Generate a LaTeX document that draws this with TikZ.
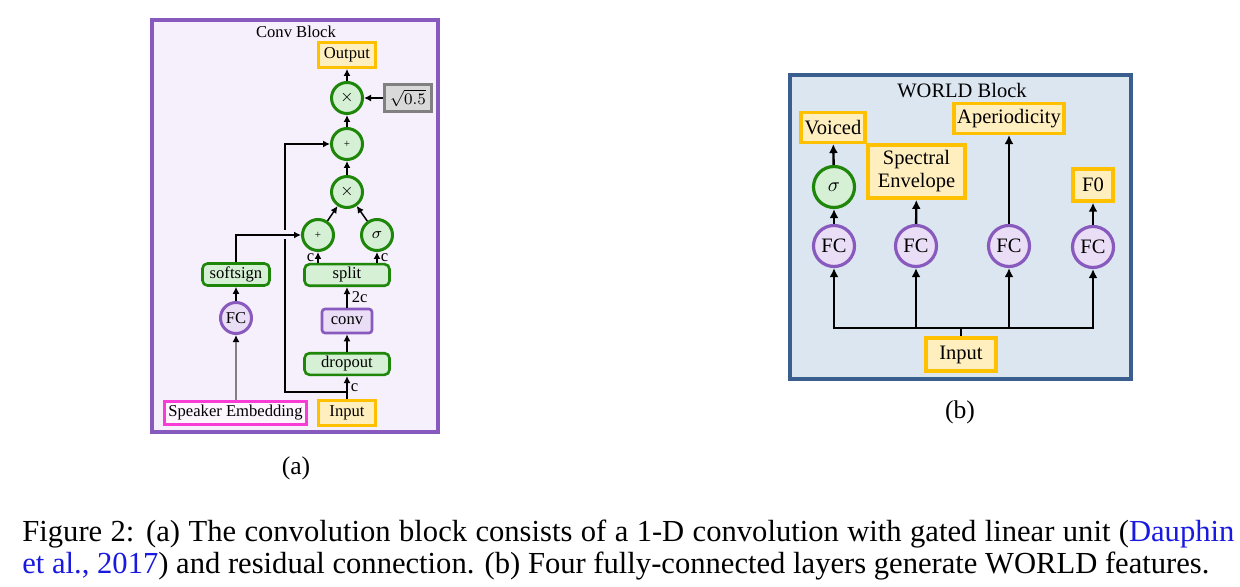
\documentclass[tikz,border=0pt]{standalone}
\usepackage{fontspec}
\setmainfont{Liberation Serif}
\usetikzlibrary{arrows.meta,positioning,calc}
\definecolor{convline}{RGB}{137,90,190}
\definecolor{convbg}{RGB}{246,239,252}
\definecolor{gline}{RGB}{30,135,10}
\definecolor{gfill}{RGB}{214,240,214}
\definecolor{oline}{RGB}{255,192,0}
\definecolor{ofill}{RGB}{255,239,191}
\definecolor{pfill}{RGB}{233,222,245}
\definecolor{mline}{RGB}{250,60,215}
\definecolor{mfill}{RGB}{253,246,255}
\definecolor{sqline}{RGB}{128,128,128}
\definecolor{sqfill}{RGB}{217,217,217}
\definecolor{wline}{RGB}{58,95,143}
\definecolor{wbg}{RGB}{220,230,241}
\definecolor{citeblue}{RGB}{25,25,225}
\newcommand{\panelafont}{\fontsize{8.3}{9.5}\selectfont}
\newcommand{\panelbfont}{\fontsize{10.25}{11.5}\selectfont}
\begin{document}
\begin{tikzpicture}[x=0.5pt, y=-0.5pt,
  gop/.style={circle, draw=gline, fill=gfill, line width=1.5pt, minimum size=15.5pt,
              inner sep=0pt, font=\panelafont},
  fcA/.style={circle, draw=convline, fill=pfill, line width=1.5pt, minimum size=15.5pt,
              inner sep=0pt, font=\panelafont},
  io/.style={draw=oline, fill=ofill, line width=1.4pt, minimum width=28.5pt,
             minimum height=12.5pt, inner sep=0pt, font=\panelafont},
  layer/.style={draw=gline, fill=gfill, line width=1.3pt, rounded corners=2.5pt,
                minimum width=42.5pt, minimum height=10.8pt, inner sep=0pt, font=\panelafont},
  arr/.style={line width=0.75pt, -{Latex[length=3.5pt,width=3.5pt]}},
  gopB/.style={circle, draw=gline, fill=gfill, line width=1.6pt, minimum size=20.5pt,
               inner sep=0pt, font=\panelbfont},
  fcB/.style={circle, draw=convline, fill=pfill, line width=1.6pt, minimum size=20.5pt,
              inner sep=0pt, font=\panelbfont},
  ioB/.style={draw=oline, fill=ofill, line width=1.75pt, inner sep=0pt, align=center,
              font=\panelbfont},
  arrB/.style={line width=1.2pt, -{Latex[length=4.5pt,width=4.5pt]}},
]
\useasboundingbox (0,0) rectangle (1240,587);

% (a) conv block
\draw[draw=convline, fill=convbg, line width=1.7pt] (152,20) rectangle (438,432);
\node[font=\panelafont, inner sep=0pt] (atitle) at (296,32) {Conv Block};

\node[io] (out) at (347,55) {Output};
\node[gop] (mul2) at (347,98) {$\times$};
\node[draw=sqline, fill=sqfill, line width=1.6pt, minimum width=23.5pt, minimum height=13.5pt,
      inner sep=0pt, font=\panelafont] (sq) at (408,98) {$\sqrt{0.5}$};
\node[gop] (add2) at (347,144) {\fontsize{5.5}{6}\selectfont +};
\node[gop] (mul1) at (347,192) {$\times$};
\node[gop] (add1) at (318,235) {\fontsize{5.5}{6}\selectfont +};
\node[gop] (sig) at (377,235) {$\sigma$};
\node[layer] (split) at (347,275) {split};
\node[draw=convline, fill=pfill, line width=1.3pt, rounded corners=1.5pt, minimum width=25pt,
      minimum height=12pt, inner sep=0pt, font=\panelafont] (conv) at (347,321) {conv};
\node[layer] (drop) at (347,364) {dropout};
\node[io] (in) at (347,413) {Input};
\node[draw=mline, fill=mfill, line width=1.4pt, minimum width=71pt, minimum height=11.5pt,
      inner sep=0pt, font=\panelafont] (spk) at (235.5,413) {Speaker Embedding};
\node[fcA] (fc) at (236,318) {FC};
\node[layer, minimum width=33.5pt, minimum height=11pt] (soft) at (236,274.5) {softsign};
\coordinate (res) at (285,392);

\draw[arr] (in) -- node[right, font=\panelafont, inner sep=1.5pt] {c} (drop);
\draw[arr] (drop) -- (conv);
\draw[arr] (conv) -- node[right, font=\panelafont, inner sep=2pt] {2c} (split);
\draw[arr] (add1 |- split.north) -- node[left, font=\panelafont, inner sep=1.5pt] {c} (add1);
\draw[arr] (sig |- split.north) -- node[right, font=\panelafont, inner sep=1.5pt] {c} (sig);
\draw[arr] (add1) -- (mul1);
\draw[arr] (sig) -- (mul1);
\draw[arr] (mul1) -- (add2);
\draw[arr] (add2) -- (mul2);
\draw[arr] (mul2) -- (out);
\draw[arr] (sq) -- (mul2);
\draw[arr] (in.north) |- (res) |- (add2);
\fill[convbg] ($(res |- add1)+(-3,-4.5)$) rectangle ($(res |- add1)+(3,4.5)$);
\draw[arr] (soft.north) |- (add1);
\draw[line width=0.75pt, draw=sqline, -{Latex[length=3.5pt,width=3.5pt,color=black]}]
  (fc |- spk.north) -- (fc);
\draw[arr] (fc) -- (soft);

\node[font=\fontsize{12.8}{14}\selectfont] (alab) at (296,468) {(a)};

% (b) world block
\draw[draw=wline, fill=wbg, line width=2pt] (790,75) rectangle (1131,379);
\node[font=\panelbfont, inner sep=0pt] (btitle) at (962,91) {WORLD Block};

\node[ioB, minimum width=32pt, minimum height=14.8pt] (voiced) at (833,127.5) {Voiced};
\node[ioB, minimum width=48.7pt, minimum height=26.7pt] (spec) at (916.5,171.5) {Spectral\\Envelope};
\node[ioB, minimum width=55pt, minimum height=14.8pt] (aper) at (1009,118.5) {Aperiodicity};
\node[ioB, minimum width=20pt, minimum height=16pt] (f0) at (1093,185) {F0};
\node[gopB] (sig2) at (834,187) {$\sigma$};
\node[fcB] (fc1) at (834,246) {FC};
\node[fcB] (fc2) at (916,246) {FC};
\node[fcB] (fc3) at (1009,246) {FC};
\node[fcB] (fc4) at (1093,247) {FC};
\node[ioB, minimum width=35pt, minimum height=16.7pt] (inb) at (961,354.5) {Input};
\coordinate (bus) at (961,328);

\draw[line width=1.2pt] (inb.north) -- (bus);
\foreach \n in {fc1,fc2,fc3,fc4}
  \draw[arrB] (bus) -| (\n);
\draw[arrB] (fc1) -- (sig2);
\draw[arrB] (sig2) -- (voiced);
\draw[arrB] (fc2) -- (spec);
\draw[arrB] (fc3) -- (aper);
\draw[arrB] (fc4) -- (f0);

\node[font=\fontsize{12.8}{14}\selectfont] (blab) at (960,412) {(b)};

% caption
\node[anchor=base west, text width=606pt, align=justify, inner sep=0pt,
      font=\fontsize{15.3}{16.2}\selectfont] (cap) at (22,541)
  {Figure 2: (a) The convolution block consists of a 1-D convolution with gated linear unit
   (\textcolor{citeblue}{Dauphin}\linebreak\textcolor{citeblue}{et al., 2017}) and residual
   connection. (b) Four fully-connected layers generate WORLD features.};
\end{tikzpicture}
\end{document}
